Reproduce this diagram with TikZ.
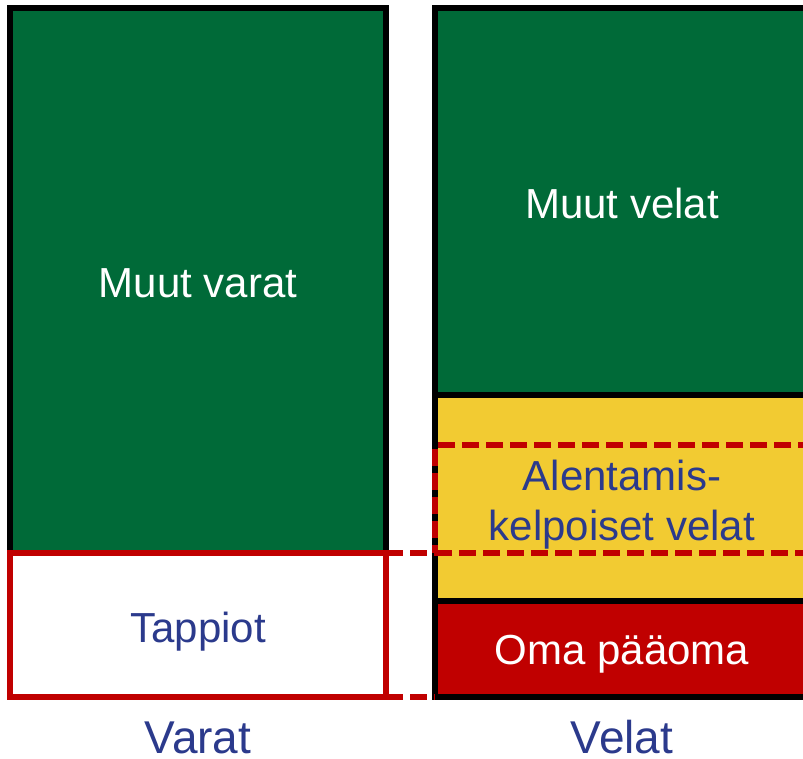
\documentclass[tikz,border=0pt]{standalone}
\usepackage{fontspec}
\setmainfont{Liberation Sans}
\definecolor{grn}{HTML}{006A38}
\definecolor{ylw}{HTML}{F2CB32}
\definecolor{rd}{HTML}{C00000}
\definecolor{txtblue}{HTML}{2B3A8C}
\tikzset{
  boxbase/.style={rectangle, inner sep=0pt, outer sep=0pt, anchor=north west, line width=5.5pt, minimum width=376pt},
  blkbox/.style={boxbase, draw=black},
  lossbox/.style={boxbase, draw=rd, fill=white},
  dashbox/.style={boxbase, draw=rd, line width=5.5pt, dash pattern=on 17pt off 7pt},
  reddash/.style={draw=rd, line width=5.5pt, dash pattern=on 17pt off 7pt},
  wtxt/.style={text=white, anchor=base, inner sep=0pt, font=\fontsize{42}{49}\selectfont},
  btxt/.style={text=txtblue, anchor=base, inner sep=0pt, align=center, font=\fontsize{42}{50}\selectfont},
  lbl/.style={text=txtblue, anchor=base, inner sep=0pt, font=\fontsize{46}{50}\selectfont}
}
\begin{document}
\begin{tikzpicture}[x=1pt,y=-1pt]
\useasboundingbox (0,0) rectangle (803,758);
\begin{scope}
\clip (0,0) rectangle (803,758);
% left column
\node[blkbox, fill=grn, minimum height=545pt] (muutvarat) at (10,8) {};
\node[lossbox, minimum height=144pt] (tappiot) at (10,553) {};
% right column
\node[blkbox, fill=grn, minimum height=387pt] (muutvelat) at (435,8) {};
\node[blkbox, fill=ylw, minimum height=206pt] (ylwbox) at (435,395) {};
\node[blkbox, fill=rd, minimum height=96pt] (oma) at (435,601) {};
\node[dashbox, minimum height=108pt] (alent) at (435,445) {};
% connectors
\draw[reddash] (tappiot.north east) -- (alent.south west);
\draw[reddash] (tappiot.south east) -- (oma.south west);
% texts
\node[wtxt] (tmuutvarat) at (198,297) {Muut varat};
\node[btxt] (ttappiot) at (198,642) {Tappiot};
\node[wtxt] (tmuutvelat) at (622,218) {Muut velat};
\node[btxt] (talent1) at (622,490) {Alentamis-};
\node[btxt] (talent2) at (622,540) {kelpoiset velat};
\node[wtxt] (toma) at (622,664) {Oma pääoma};
\end{scope}
\node[lbl] (varat) at (198,753) {Varat};
\node[lbl] (velat) at (622,753) {Velat};
\end{tikzpicture}
\end{document}
